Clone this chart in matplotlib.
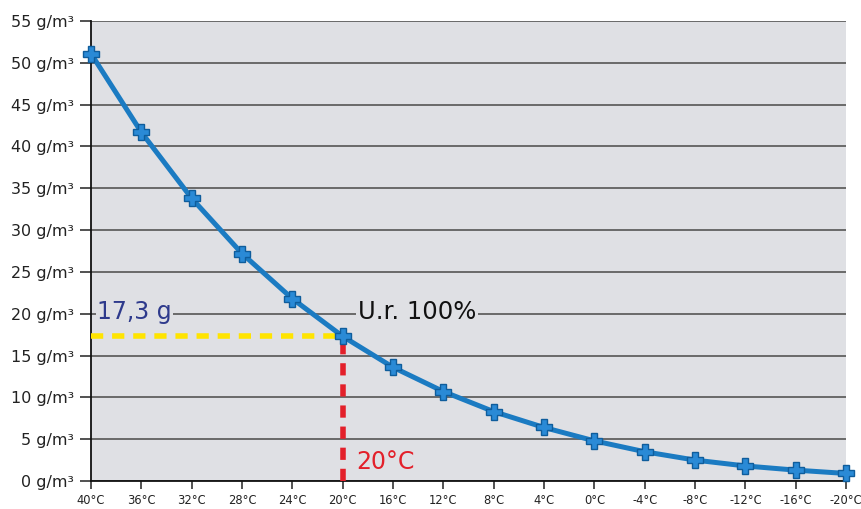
import matplotlib
matplotlib.use("Agg")
import matplotlib.pyplot as plt

temps = ["40°C", "36°C", "32°C", "28°C", "24°C", "20°C", "16°C", "12°C", "8°C",
         "4°C", "0°C", "-4°C", "-8°C", "-12°C", "-16°C", "-20°C"]
humidity = [51.1, 41.7, 33.8, 27.2, 21.8, 17.3, 13.6, 10.7, 8.3, 6.4, 4.8, 3.5, 2.5, 1.8, 1.3, 0.9]
y_ticks = [0, 5, 10, 15, 20, 25, 30, 35, 40, 45, 50, 55]
y_labels = [f"{v} g/m³" for v in y_ticks]
ref_index = 5
ref_value = 17.3

plt.rcParams['font.family'] = ['DejaVu Sans']
fig = plt.figure(figsize=(8.62, 5.09), dpi=100)
ax = fig.add_axes([91/862, 1 - 481/509, (846-91)/862, (481-21)/509])
bg = "#dfe0e4"
ax.set_facecolor(bg)

x = list(range(len(temps)))
ax.set_xlim(0, len(temps) - 1)
ax.set_ylim(0, 55)
ax.set_yticks(y_ticks)
ax.set_yticklabels(y_labels, fontsize=11.5, color="#222222")
ax.set_xticks(x)
ax.set_xticklabels(temps, fontsize=8.3, color="#222222")
ax.grid(axis="y", color="#555555", linewidth=1.2, zorder=1)
ax.tick_params(axis="y", length=8, width=1.2, color="#333333", pad=4)
ax.tick_params(axis="x", length=6, width=1.2, color="#333333", pad=3)
for s in ["top", "right"]:
    ax.spines[s].set_visible(False)
ax.spines["left"].set_color("#111111")
ax.spines["bottom"].set_color("#111111")
ax.spines["left"].set_linewidth(1.3)
ax.spines["bottom"].set_linewidth(1.3)

ax.plot([0, ref_index], [ref_value, ref_value], color="#ffe400", linewidth=4,
        linestyle=(0, (2.2, 1.6)), zorder=3, clip_on=False)
ax.plot([ref_index, ref_index], [0, ref_value], color="#e3202a", linewidth=4,
        linestyle=(0, (2.2, 1.6)), zorder=3, clip_on=False)

ax.plot(x, humidity, color="#1b7bc2", linewidth=3.6, zorder=4, clip_on=False,
        marker="P", markersize=11, markerfacecolor="#2a8ad6",
        markeredgecolor="#0f5d9c", markeredgewidth=1.0)

ax.text(0.12, 20.2, "17,3 g", fontsize=17, color="#2e3a8c", va="center", ha="left",
        zorder=5, bbox=dict(facecolor=bg, edgecolor="none", pad=1))
ax.text(5.3, 20.2, "U.r. 100%", fontsize=17.5, color="#111111", va="center", ha="left",
        zorder=5, bbox=dict(facecolor=bg, edgecolor="none", pad=1))
ax.text(5.27, 2.3, "20°C", fontsize=17, color="#e3202a", va="center", ha="left", zorder=5)

fig.savefig("out.png", dpi=100)
